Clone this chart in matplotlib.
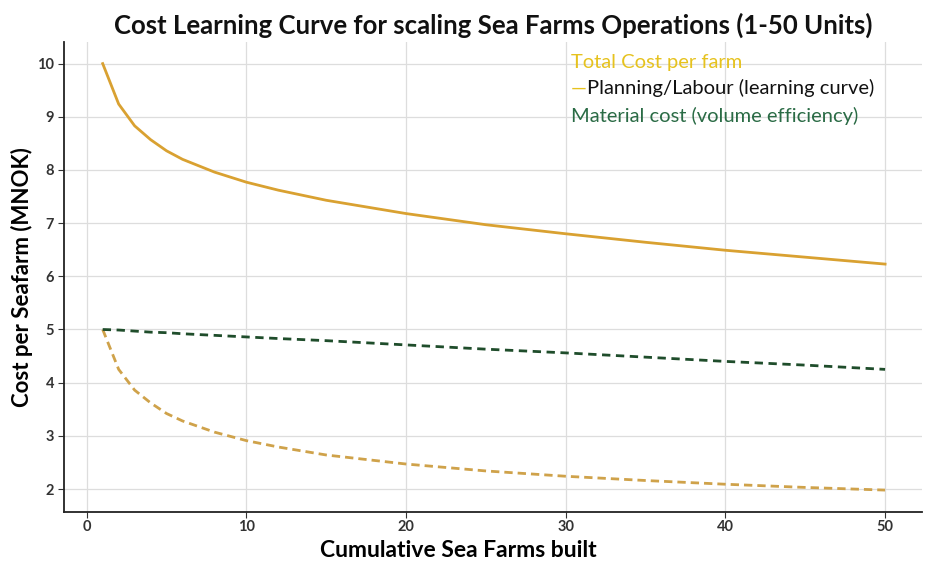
import numpy as np
import matplotlib
matplotlib.use('Agg')
import matplotlib.pyplot as plt

## DATA
farms = [1, 2, 3, 4, 5, 6, 8, 10, 12, 15, 20, 25, 30, 35, 40, 45, 50]
planning = [5.00, 4.25, 3.86, 3.62, 3.42, 3.28, 3.07, 2.91, 2.79, 2.64,
            2.47, 2.34, 2.24, 2.16, 2.09, 2.03, 1.98]
material = [5.00, 4.99, 4.97, 4.95, 4.94, 4.92, 4.89, 4.86, 4.83, 4.79,
            4.71, 4.63, 4.56, 4.48, 4.40, 4.33, 4.25]
total = [10.00, 9.24, 8.83, 8.57, 8.36, 8.20, 7.96, 7.77, 7.62, 7.43,
         7.18, 6.97, 6.80, 6.64, 6.49, 6.36, 6.23]

x_ticks = [0, 10, 20, 30, 40, 50]
y_ticks = [2, 3, 4, 5, 6, 7, 8, 9, 10]

plt.rcParams['font.family'] = ['Lato', 'DejaVu Sans']

fig = plt.figure(figsize=(9.33, 5.65), dpi=100)
fig.patch.set_facecolor('white')
ax = fig.add_axes([0.069, 0.094, 0.919, 0.832])

# lines
ax.plot(farms, total, color='#d9a131', lw=2.0, zorder=3)
ax.plot(farms, planning, color='#cfa24a', lw=2.0, ls=(0, (3, 1.8)), zorder=3)
ax.plot(farms, material, color='#1f4d2b', lw=2.0, ls=(0, (3, 2)), zorder=3)

ax.set_xlim(-1.4, 52.3)
ax.set_ylim(1.57, 10.41)
ax.set_xticks(x_ticks)
ax.set_yticks(y_ticks)
ax.grid(True, color='#dddddd', lw=0.9)
ax.set_axisbelow(True)
for s in ['top', 'right']:
    ax.spines[s].set_visible(False)
for s in ['left', 'bottom']:
    ax.spines[s].set_color('#222222')
    ax.spines[s].set_linewidth(1.3)
ax.tick_params(labelsize=10.5, colors='#333333', length=4)
ax.tick_params(axis='x', pad=2)
for lab in ax.get_xticklabels() + ax.get_yticklabels():
    lab.set_fontweight('bold')

ax.set_xlabel('Cumulative Sea Farms built', fontsize=16.5, fontweight='bold')
ax.set_ylabel('Cost per Seafarm (MNOK)', fontsize=16, fontweight='bold')
ax.xaxis.set_label_coords(0.46, -0.082)
ax.yaxis.set_label_coords(-0.049, 0.5)
ax.xaxis.label.set_va('center')
ax.yaxis.label.set_va('center')
fig.text(0.529, 0.955, 'Cost Learning Curve for scaling Sea Farms Operations (1-50 Units)',
         ha='center', va='center', fontsize=18.5, fontweight='bold', color='#111111')

# legend-like colored text
fig.text(0.612, 0.89, 'Total Cost per farm', fontsize=14.5, color='#e6c21e', va='center')
fig.text(0.612, 0.844, '\u2014', fontsize=14.5, color='#e6c21e', va='center')
fig.text(0.629, 0.844, 'Planning/Labour (learning curve)', fontsize=14.5, color='#111111', va='center')
fig.text(0.612, 0.794, 'Material cost (volume efficiency)', fontsize=14.5, color='#2a6b45', va='center')

fig.savefig('out.png', dpi=100)
